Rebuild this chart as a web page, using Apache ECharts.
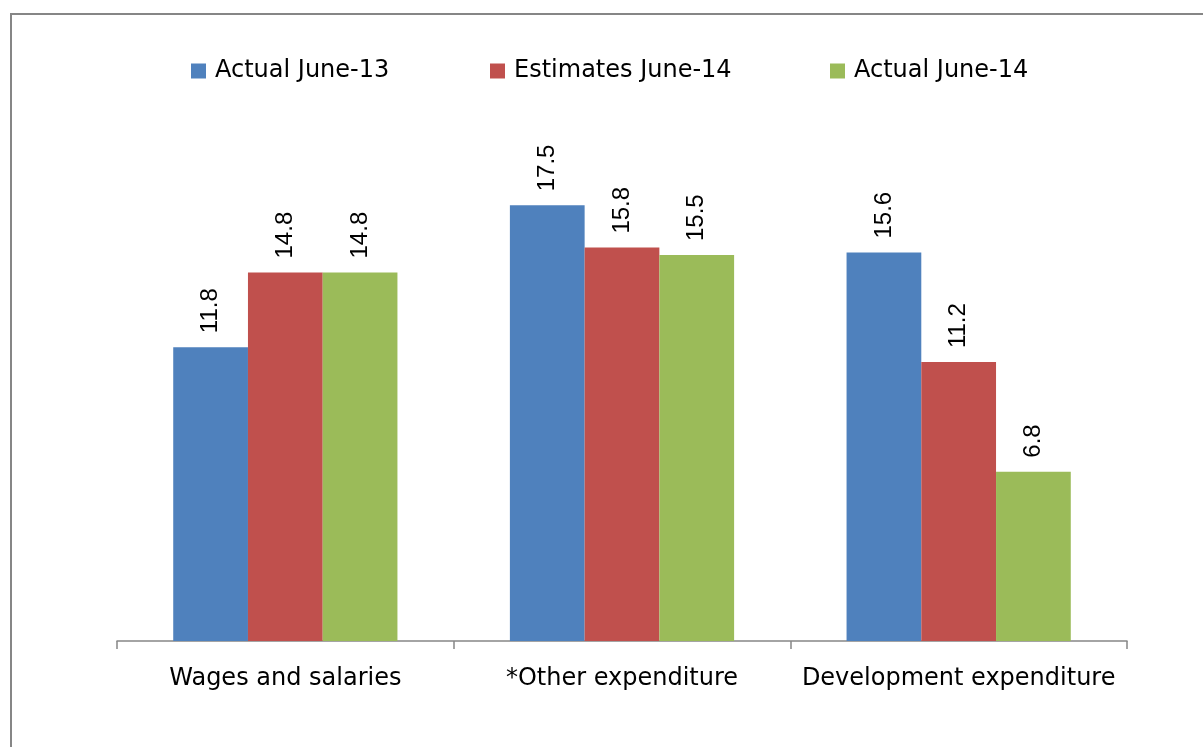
<!DOCTYPE html>
<html>
<head>
<meta charset="utf-8">
<style>
  html, body { margin: 0; padding: 0; background: #ffffff; }
  #chart { width: 1203px; height: 747px; }
</style>
<script src="https://cdn.jsdelivr.net/npm/echarts@6/dist/echarts.min.js"></script>
</head>
<body>
<div id="chart"></div>
<script>
// Expenditure growth by category (percent)
const categories = ['Wages and salaries', '*Other expenditure', 'Development expenditure'];
const seriesNames = ['Actual June-13', 'Estimates June-14', 'Actual June-14'];
const actualJune13 = [11.8, 17.5, 15.6];
const estimatesJune14 = [14.8, 15.8, 11.2];
const actualJune14 = [14.8, 15.5, 6.8];

const seriesValues = [actualJune13, estimatesJune14, actualJune14];
const colors = ['#4F81BD', '#C0504D', '#9BBB59'];
const legendLeft = [186, 485, 825];

const textFont = "'DejaVu Sans', sans-serif";
const numberFont = "'Liberation Sans', sans-serif";

const chart = echarts.init(document.getElementById('chart'), null, { renderer: 'canvas' });

const option = {
  animation: false,
  backgroundColor: '#ffffff',
  graphic: [{
    type: 'rect',
    shape: { x: 11, y: 14, width: 1400, height: 1000 },
    style: { fill: 'none', stroke: '#868686', lineWidth: 2 },
    silent: true
  }],
  legend: seriesNames.map((name, i) => ({
    data: [name],
    left: legendLeft[i],
    top: 54,
    icon: 'rect',
    itemWidth: 15,
    itemHeight: 15,
    selectedMode: false,
    textStyle: { fontFamily: textFont, fontSize: 24, color: '#000000', padding: [0, 0, 0, 4] }
  })),
  grid: { left: 117, right: 76, top: 143, bottom: 106, containLabel: false },
  xAxis: {
    type: 'category',
    data: categories,
    axisLine: { show: true, lineStyle: { color: '#868686', width: 1.5 } },
    axisTick: { show: true, alignWithLabel: false, length: 8, lineStyle: { color: '#868686', width: 1.5 } },
    axisLabel: { fontFamily: textFont, fontSize: 24, color: '#000000', margin: 26, interval: 0 }
  },
  yAxis: {
    type: 'value',
    min: 0,
    max: 20,
    interval: 5,
    show: false,
    splitLine: { show: false }
  },
  series: seriesNames.map((name, i) => ({
    name: name,
    type: 'bar',
    data: seriesValues[i],
    barGap: '0%',
    barCategoryGap: '33.4%',
    itemStyle: { color: colors[i] },
    label: {
      show: true,
      position: 'top',
      distance: 14,
      rotate: 90,
      align: 'left',
      verticalAlign: 'middle',
      fontFamily: numberFont,
      fontSize: 24,
      color: '#000000',
      formatter: p => p.value.toFixed(1)
    }
  }))
};

chart.setOption(option);
</script>
</body>
</html>
